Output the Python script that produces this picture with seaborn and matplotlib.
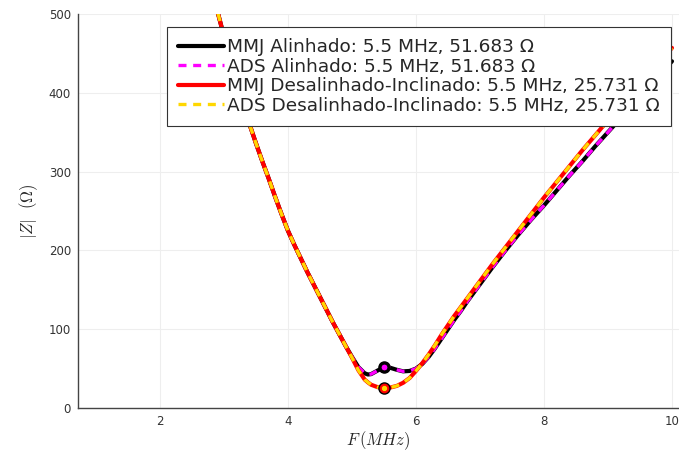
import numpy as np
import pandas as pd
import matplotlib
matplotlib.use("Agg")
import matplotlib.pyplot as plt
import seaborn as sns

# ---- data ----
freq_left = [2.8, 2.9, 3.0, 3.1, 3.2, 3.3, 3.4, 3.5, 3.6, 3.7, 3.8, 3.9, 4.0,
             4.1, 4.2, 4.3, 4.4, 4.5, 4.6, 4.7, 4.8, 4.9]
z_left = [538, 503, 472, 443, 415, 388, 360, 336, 313, 291, 268, 246, 225,
          207, 190, 173, 157, 141, 125, 109, 94, 79]

freq_right = [5.0, 5.1, 5.2, 5.25, 5.3, 5.4, 5.5, 5.6, 5.7, 5.8, 5.9, 6.0, 6.1,
              6.2, 6.3, 6.4, 6.5, 6.6, 6.7, 6.8, 6.9, 7.0, 7.2, 7.4, 7.6, 7.8,
              8.0, 8.2, 8.4, 8.6, 8.8, 9.0, 9.2, 9.4, 9.6, 9.8, 10.0]
z_alinhado_right = [65, 52, 44, 42.5, 43, 47.5, 51.683, 51, 48.5, 46.5, 47, 50, 56,
                    65, 76, 88, 100, 112, 123, 135, 146, 157, 179, 200, 220, 239,
                    257, 276, 295, 313, 332, 350, 368, 386, 404, 422, 440]
z_desalinhado_right = [64, 48, 36, 32.5, 29.5, 26.5, 25.731, 26, 28, 32, 38, 47, 57,
                       68, 80, 93, 105, 117, 128, 139, 150, 161, 183, 204, 225, 246,
                       267, 287, 307, 327, 346, 365, 384, 402, 421, 439, 457]

freq = freq_left + freq_right
z_mmj_alinhado = z_left + z_alinhado_right
z_ads_alinhado = z_left + z_alinhado_right
z_mmj_desalinhado = z_left + z_desalinhado_right
z_ads_desalinhado = z_left + z_desalinhado_right

f_res = 5.5
z_res_alinhado = 51.683
z_res_desalinhado = 25.731

labels = ["MMJ Alinhado: 5.5 MHz, 51.683 Ω",
          "ADS Alinhado: 5.5 MHz, 51.683 Ω",
          "MMJ Desalinhado-Inclinado: 5.5 MHz, 25.731 Ω",
          "ADS Desalinhado-Inclinado: 5.5 MHz, 25.731 Ω"]
colors = ["black", "magenta", "red", "gold"]

x_ticks = [2, 4, 6, 8, 10]
y_ticks = [0, 100, 200, 300, 400, 500]

# ---- plotting ----
sns.set_style("white")
plt.rcParams['font.family'] = ['DejaVu Sans']
plt.rcParams['mathtext.fontset'] = 'cm'

fig = plt.figure(figsize=(6.79, 4.54), dpi=100)
ax = fig.add_axes([78/679, 46/454, 601/679, 394/454])

series = [z_mmj_alinhado, z_ads_alinhado, z_mmj_desalinhado, z_ads_desalinhado]
styles = ["-", (0, (2.4, 2.0)), "-", (0, (2.4, 2.0))]
widths = [3.0, 2.4, 3.0, 2.4]
for ys, lab, c, ls, lw in zip(series, labels, colors, styles, widths):
    df = pd.DataFrame({"F": freq, "Z": ys})
    sns.lineplot(data=df, x="F", y="Z", ax=ax, color=c, linestyle=ls,
                 linewidth=lw, label=lab, sort=False, zorder=3)

# resonance markers
ax.plot([f_res], [z_res_alinhado], 'o', ms=8, mfc="black", mec="black", zorder=5)
ax.plot([f_res], [z_res_alinhado], 'o', ms=5, mfc="magenta", mec="black", mew=0.8, zorder=6)
ax.plot([f_res], [z_res_desalinhado], 'o', ms=8, mfc="red", mec="black", mew=1.0, zorder=5)
ax.plot([f_res], [z_res_desalinhado], 'o', ms=4.5, mfc="gold", mec="red", mew=0.6, zorder=6)

ax.set_xlim(0.72, 10.11)
ax.set_ylim(0, 500)
ax.set_xticks(x_ticks)
ax.set_yticks(y_ticks)
ax.grid(True, color="#eeeeee", linewidth=0.8)
ax.set_axisbelow(True)
for s in ["top", "right"]:
    ax.spines[s].set_visible(False)
for s in ["left", "bottom"]:
    ax.spines[s].set_color("#444444")
    ax.spines[s].set_linewidth(1.0)
ax.tick_params(axis="both", direction="in", length=3, color="#444444",
               labelsize=8.5, labelcolor="#333333", pad=5)

ax.set_xlabel(r"$F\,(MHz)$", fontsize=12, labelpad=1)
ax.set_ylabel(r"$|Z|\ \ (\Omega)$", fontsize=12, labelpad=6)

leg = ax.legend(loc="upper right", bbox_to_anchor=(593/601, 1 - 13/394),
                fontsize=13.3, frameon=True, fancybox=False, edgecolor="#333333",
                framealpha=1.0, handlelength=2.5, handletextpad=0.15,
                labelspacing=0.08, borderpad=0.6, borderaxespad=0.0)
leg.get_frame().set_linewidth(0.8)

fig.savefig("out.png", dpi=100)
